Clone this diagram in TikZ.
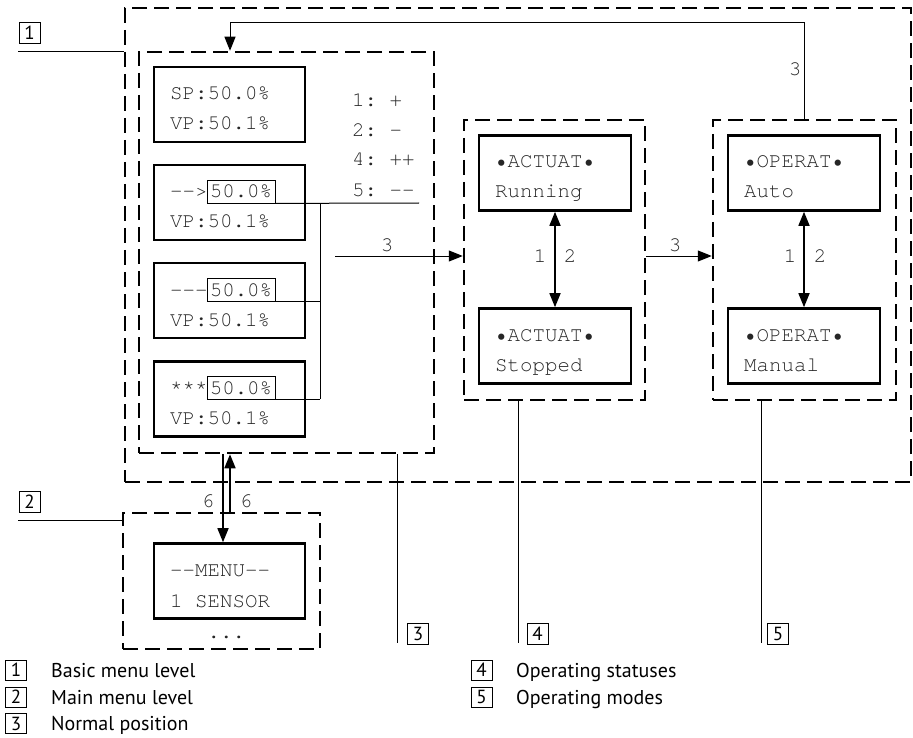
\documentclass[tikz,border=0pt]{standalone}
\usepackage{fontspec}
\setmonofont{TeX Gyre Cursor}
\newfontfamily\labfont{PT Sans}
\usetikzlibrary{arrows.meta}
\tikzset{
  dbox/.style={draw, line width=2.5pt, dash pattern=on 15pt off 7pt, inner sep=0pt},
  lcd/.style={draw, line width=2.6pt, inner sep=0pt, minimum width=151pt, minimum height=75pt},
  lt/.style={anchor=base west, inner sep=0pt, font=\ttfamily\fontsize{20.8}{25}\selectfont, text=black!85},
  ct/.style={anchor=center, inner sep=0pt, font=\ttfamily\fontsize{20.8}{25}\selectfont, text=black!85},
  smallbox/.style={draw, line width=0.8pt, inner sep=0pt, minimum width=68pt, text height=18pt, text depth=5pt, font=\ttfamily\fontsize{20.8}{25}\selectfont, text=black!85},
  numbox/.style={draw, line width=0.8pt, inner sep=0pt, minimum width=21pt, minimum height=21pt, font=\labfont\fontsize{19}{20}\selectfont},
  legbox/.style={draw, line width=0.8pt, inner sep=0pt, minimum width=21pt, minimum height=20pt, font=\labfont\fontsize{19}{20}\selectfont},
  legtext/.style={anchor=base west, inner sep=0pt, font=\labfont\fontsize{20}{22}\selectfont},
  thinline/.style={line width=1pt},
  arr/.style={line width=1pt, -{Triangle[length=14pt,width=11pt]}},
  arrb/.style={line width=1.6pt, -{Triangle[length=14pt,width=11pt]}},
  dbl/.style={line width=1.6pt, {Triangle[length=14pt,width=11pt]}-{Triangle[length=14pt,width=11pt]}},
}
\begin{document}
\begin{tikzpicture}[x=1pt,y=-1pt]
\useasboundingbox (0,0) rectangle (913,738);

% dashed group boxes
\node[dbox, minimum width=786pt, minimum height=474pt] (o1) at (518,245) {};
\node[dbox, minimum width=295pt, minimum height=401pt] (bm) at (286.5,252.5) {};
\node[dbox, minimum width=181pt, minimum height=280pt] (st) at (554.5,260) {};
\node[dbox, minimum width=183pt, minimum height=280pt] (om) at (804.5,260) {};
\node[dbox, minimum width=197pt, minimum height=136pt] (mm) at (221.5,581) {};

% LCD boxes
\node[lcd] (l1) at (229.5,104.5) {};
\node[lcd] (l2) at (229.5,202.5) {};
\node[lcd] (l3) at (229.5,300.5) {};
\node[lcd] (l4) at (229.5,399) {};
\node[lcd, minimum width=152pt] (a1) at (555,173) {};
\node[lcd, minimum width=152pt] (a2) at (555,346) {};
\node[lcd, minimum width=152pt] (p1) at (804,173) {};
\node[lcd, minimum width=152pt] (p2) at (804,346) {};
\node[lcd] (mn) at (229.5,581) {};

% LCD texts
\node[lt] (t1a) at (170,100) {SP:50.0\%};
\node[lt] (t1b) at (170,130) {VP:50.1\%};
\node[lt] (t2a) at (170,198) {-->};
\node[smallbox] (s2) at (241,191.5) {50.0\%};
\node[lt] (t2b) at (170,228) {VP:50.1\%};
\node[lt] (t3a) at (170,296) {---};
\node[smallbox] (s3) at (241,289.5) {50.0\%};
\node[lt] (t3b) at (170,326) {VP:50.1\%};
\node[lt] (t4a) at (170,394) {***};
\node[smallbox] (s4) at (241,387.5) {50.0\%};
\node[lt] (t4b) at (170,424) {VP:50.1\%};

\node[lt] (k1) at (352,107) {1: +};
\node[lt] (k2) at (352,137) {2: -};
\node[lt] (k4) at (352,166) {4: ++};
\node[lt] (k5) at (352,197) {5: --};

\node[lt] (a1a) at (495,168) {•ACTUAT•};
\node[lt] (a1b) at (495,198) {Running};
\node[lt] (a2a) at (495,341) {•ACTUAT•};
\node[lt] (a2b) at (495,371) {Stopped};
\node[lt] (p1a) at (744,168) {•OPERAT•};
\node[lt] (p1b) at (744,198) {Auto};
\node[lt] (p2a) at (744,341) {•OPERAT•};
\node[lt] (p2b) at (744,371) {Manual};

\node[lt] (m1) at (170,576) {--MENU--};
\node[lt] (m2) at (170,607) {1 SENSOR};
\node[lt] (m3) at (207.5,638) {...};

% helper coordinates
\coordinate (c3) at (335,256);
\coordinate (topy) at (0,23);
\coordinate (bx) at (230,0);
\coordinate (c6a) at (223,0);
\coordinate (c6b) at (230,0);
\coordinate (cr) at (419,203);
\coordinate (vx) at (320,0);
\coordinate (ly) at (0,643);

% small-box connectors
\draw[thinline] (s2.south east) -- (cr);
\draw[thinline] (s3.south east) -- (vx |- s3.south);
\draw[thinline] (s4.south east) -- (vx |- s4.south);
\draw[thinline] (vx |- s2.south) -- (vx |- s4.south);

% arrows 3
\draw[arr] (c3) -- (st.west |- c3);
\draw[arr] (st.east |- c3) -- (om.west |- c3);
\draw[arr] (om.north) -- (om.north |- topy) -- (bx |- topy) -- (bx |- bm.north);
\node[ct] (n3a) at (387,245) {3};
\node[ct] (n3b) at (675,245) {3};
\node[ct] (n3c) at (795,69) {3};

% double arrows 1/2
\draw[dbl] (a1.south) -- (a2.north);
\draw[dbl] (p1.south) -- (p2.north);
\node[ct] (n1a) at (540,256) {1};
\node[ct] (n2a) at (570,256) {2};
\node[ct] (n1b) at (790,256) {1};
\node[ct] (n2b) at (820,256) {2};

% arrows 6
\draw[arrb] (c6a |- bm.south) -- (c6a |- mn.north);
\draw[arrb] (c6b |- mm.north) -- (c6b |- bm.south);
\node[ct] (n6a) at (208,501) {6};
\node[ct] (n6b) at (246,501) {6};

% leader lines and number boxes
\coordinate (e1) at (18,52);
\coordinate (e2) at (18,520.7);
\coordinate (x3) at (397,0);
\coordinate (x4) at (518.5,0);
\coordinate (x5) at (761,0);
\draw[thinline] (e1) -- (o1.west |- e1);
\draw[thinline] (e2) -- (mm.west |- e2);
\draw[thinline] (x3 |- bm.south) -- (x3 |- ly);
\draw[thinline] (x4 |- st.south) -- (x4 |- ly);
\draw[thinline] (x5 |- om.south) -- (x5 |- ly);
\node[numbox] (L1) at (29.5,32.5) {1};
\node[numbox] (L2) at (29.5,502) {2};
\node[numbox] (L3) at (418,634) {3};
\node[numbox] (L4) at (537.5,634) {4};
\node[numbox] (L5) at (778,634) {5};

% legend
\node[legbox] (g1) at (16,670) {1};
\node[legbox] (g2) at (16,697) {2};
\node[legbox] (g3) at (16,723.5) {3};
\node[legbox] (g4) at (481.5,670) {4};
\node[legbox] (g5) at (481.5,697) {5};
\node[legtext] (h1) at (51,677) {Basic menu level};
\node[legtext] (h2) at (51,704) {Main menu level};
\node[legtext] (h3) at (51,730.5) {Normal position};
\node[legtext] (h4) at (516,677) {Operating statuses};
\node[legtext] (h5) at (516,704) {Operating modes};
\end{tikzpicture}
\end{document}
